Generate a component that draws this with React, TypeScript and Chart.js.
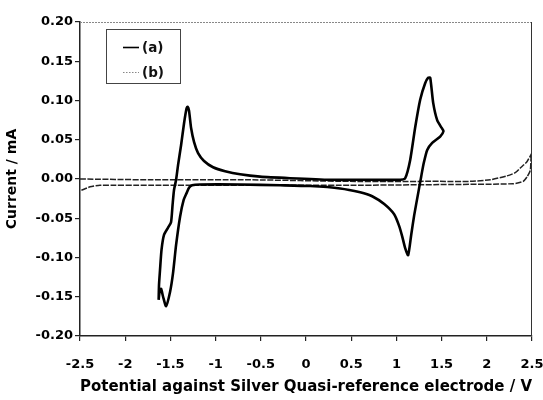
import React, { useEffect, useRef } from "react";
import { Chart, registerables } from "chart.js";

Chart.register(...registerables);

// ---- Data ----
const seriesALabel = "(a)";
const seriesBLabel = "(b)";

const potentialA = [
  -1.63, -1.626, -1.615, -1.598, -1.57, -1.526, -1.493, -1.476, -1.46, -1.437,
  -1.415, -1.382, -1.349, -1.321, -1.31, -1.294, -1.271, -1.238, -1.194, -1.128,
  -1.028, -0.895, -0.729, -0.508, -0.176, 0.267, 0.71, 1.042, 1.097, 1.152,
  1.208, 1.263, 1.318, 1.352, 1.374, 1.407, 1.451, 1.501, 1.521, 1.484,
  1.396, 1.341, 1.302, 1.274, 1.241, 1.197, 1.164, 1.13, 1.097, 1.064,
  1.031, 0.975, 0.865, 0.732, 0.599, 0.378, 0.046, -0.286, -0.729, -1.172,
  -1.26, -1.294, -1.321, -1.354, -1.393, -1.437, -1.471, -1.504, -1.548, -1.581,
  -1.603, -1.62, -1.63,
];
const currentA = [
  -0.154, -0.135, -0.116, -0.09, -0.071, -0.062, -0.055, -0.033, -0.014, -0.001,
  0.018, 0.043, 0.071, 0.09, 0.092, 0.087, 0.065, 0.047, 0.033, 0.023,
  0.015, 0.01, 0.006, 0.003, 0.001, -0.001, -0.001, -0.001, 0.001, 0.024,
  0.066, 0.101, 0.122, 0.129, 0.129, 0.097, 0.075, 0.065, 0.061, 0.054,
  0.046, 0.037, 0.02, 0.003, -0.018, -0.046, -0.071, -0.097, -0.088, -0.073,
  -0.06, -0.045, -0.032, -0.022, -0.017, -0.012, -0.009, -0.008, -0.007, -0.007,
  -0.008, -0.011, -0.018, -0.027, -0.048, -0.084, -0.12, -0.144, -0.162, -0.15,
  -0.14, -0.144, -0.154,
];

const potentialB = [
  -2.5, -1.725, -0.618, 0.488, 1.484, 1.817, 2.038, 2.223, 2.315, 2.37,
  2.444, 2.5, 2.49, 2.481, 2.447, 2.403, 2.292, 1.595, 0.488, -0.618,
  -1.725, -2.279, -2.389, -2.478, -2.5,
];
const currentB = [
  0.0, -0.001, -0.001, -0.003, -0.003, -0.003, -0.001, 0.004, 0.008, 0.014,
  0.022, 0.033, 0.027, 0.011, 0.003, -0.003, -0.006, -0.007, -0.008, -0.008,
  -0.008, -0.008, -0.01, -0.014, -0.015,
];

const xTickValues = [-2.5, -2, -1.5, -1, -0.5, 0, 0.5, 1, 1.5, 2, 2.5];
const xTickLabels = ["-2.5", "-2", "-1.5", "-1", "-0.5", "0", "0.5", "1", "1.5", "2", "2.5"];
const yTickValues = [-0.2, -0.15, -0.1, -0.05, 0, 0.05, 0.1, 0.15, 0.2];
const yTickLabels = ["-0.20", "-0.15", "-0.10", "-0.05", "0.00", "0.05", "0.10", "0.15", "0.20"];

const xTitle = "Potential against Silver Quasi-reference electrode / V";
const yTitle = "Current / mA";

const FONT = '"DejaVu Sans", "Liberation Sans", Arial, sans-serif';

const toPoints = (xs: number[], ys: number[]) => xs.map((x, i) => ({ x, y: ys[i] }));

const labelFor = (values: number[], labels: string[], v: number) => {
  const i = values.findIndex((t) => Math.abs(t - v) < 1e-6);
  return i >= 0 ? labels[i] : "";
};

const framePlugin = {
  id: "frame",
  afterDraw(chart: any) {
    const { ctx, chartArea: a } = chart;
    ctx.save();
    ctx.strokeStyle = "#888";
    ctx.lineWidth = 1;
    ctx.setLineDash([2, 1]);
    ctx.beginPath();
    ctx.moveTo(a.left, a.top + 0.5);
    ctx.lineTo(a.right, a.top + 0.5);
    ctx.stroke();
    ctx.setLineDash([]);
    ctx.strokeStyle = "#333";
    ctx.beginPath();
    ctx.moveTo(a.right - 0.5, a.top);
    ctx.lineTo(a.right - 0.5, a.bottom);
    ctx.stroke();
    ctx.restore();
  },
};

const boxLegendPlugin = {
  id: "boxLegend",
  afterDraw(chart: any) {
    const { ctx } = chart;
    const x0 = 106;
    const y0 = 29;
    const w = 74;
    const h = 54;
    ctx.save();
    ctx.fillStyle = "#fff";
    ctx.fillRect(x0, y0, w, h);
    ctx.strokeStyle = "#444";
    ctx.lineWidth = 1;
    ctx.strokeRect(x0 + 0.5, y0 + 0.5, w, h);
    chart.data.datasets.forEach((ds: any, i: number) => {
      const y = y0 + 18 + i * 25;
      ctx.strokeStyle = i === 0 ? ds.borderColor : "#888";
      ctx.lineWidth = i === 0 ? 1.6 : 1.2;
      ctx.setLineDash(i === 0 ? [] : [1.5, 1.5]);
      ctx.beginPath();
      ctx.moveTo(x0 + 17, y + 0.5);
      ctx.lineTo(x0 + 33, y + 0.5);
      ctx.stroke();
      ctx.setLineDash([]);
      ctx.fillStyle = "#111";
      ctx.font = `bold 13.5px ${FONT}`;
      ctx.textBaseline = "middle";
      ctx.textAlign = "left";
      ctx.fillText(ds.label, x0 + 36, y + 1);
    });
    ctx.restore();
  },
};

export default function App() {
  const canvasRef = useRef<HTMLCanvasElement | null>(null);

  useEffect(() => {
    if (!canvasRef.current) return;
    const chart = new Chart(canvasRef.current, {
      type: "scatter",
      data: {
        datasets: [
          {
            label: seriesALabel,
            data: toPoints(potentialA, currentA),
            showLine: true,
            borderColor: "#000",
            borderWidth: 2.6,
            pointRadius: 0,
            tension: 0.2,
            fill: false,
          },
          {
            label: seriesBLabel,
            data: toPoints(potentialB, currentB),
            showLine: true,
            borderColor: "#222",
            borderWidth: 1.5,
            borderDash: [6, 1.5],
            pointRadius: 0,
            tension: 0.2,
            fill: false,
          },
        ],
      },
      options: {
        animation: false,
        responsive: false,
        devicePixelRatio: 1,
        layout: { padding: { top: 22, right: 11, bottom: 0, left: 0 } },
        plugins: {
          legend: { display: false },
          tooltip: { enabled: false },
        },
        scales: {
          x: {
            type: "linear",
            min: -2.5,
            max: 2.5,
            afterBuildTicks: (s: any) => {
              s.ticks = xTickValues.map((v) => ({ value: v }));
            },
            afterFit: (s: any) => {
              s.height = 64;
              s.paddingLeft = 0;
              s.paddingRight = 0;
            },
            grid: {
              drawOnChartArea: false,
              drawTicks: true,
              tickLength: 5,
              color: "#222",
              lineWidth: 1.2,
            },
            border: { display: true, color: "#222", width: 1.5 },
            ticks: {
              autoSkip: false,
              maxRotation: 0,
              padding: 16,
              color: "#000",
              font: { family: FONT, size: 13, weight: "bold" },
              callback: (v: any) => labelFor(xTickValues, xTickLabels, Number(v)),
            },
            title: {
              display: true,
              text: xTitle,
              color: "#000",
              font: { family: FONT, size: 15, weight: "bold" },
              padding: { top: 0, bottom: 4 },
            },
          },
          y: {
            type: "linear",
            min: -0.2,
            max: 0.2,
            afterBuildTicks: (s: any) => {
              s.ticks = yTickValues.map((v) => ({ value: v }));
            },
            afterFit: (s: any) => {
              s.width = 80;
              s.paddingTop = 0;
              s.paddingBottom = 0;
            },
            grid: {
              drawOnChartArea: false,
              drawTicks: true,
              tickLength: 5,
              color: "#222",
              lineWidth: 1.2,
            },
            border: { display: true, color: "#222", width: 1.5 },
            ticks: {
              autoSkip: false,
              padding: 2,
              color: "#000",
              font: { family: FONT, size: 13, weight: "bold" },
              callback: (v: any) => labelFor(yTickValues, yTickLabels, Number(v)),
            },
            title: {
              display: true,
              text: yTitle,
              color: "#000",
              font: { family: FONT, size: 14, weight: "bold" },
              padding: { top: 4, bottom: 0 },
            },
          },
        },
      },
      plugins: [framePlugin, boxLegendPlugin],
    } as any);
    return () => chart.destroy();
  }, []);

  return (
    <div style={{ position: "fixed", left: 0, top: 0, width: 543, height: 400, background: "#fff" }}>
      <canvas ref={canvasRef} width={543} height={400} />
    </div>
  );
}
